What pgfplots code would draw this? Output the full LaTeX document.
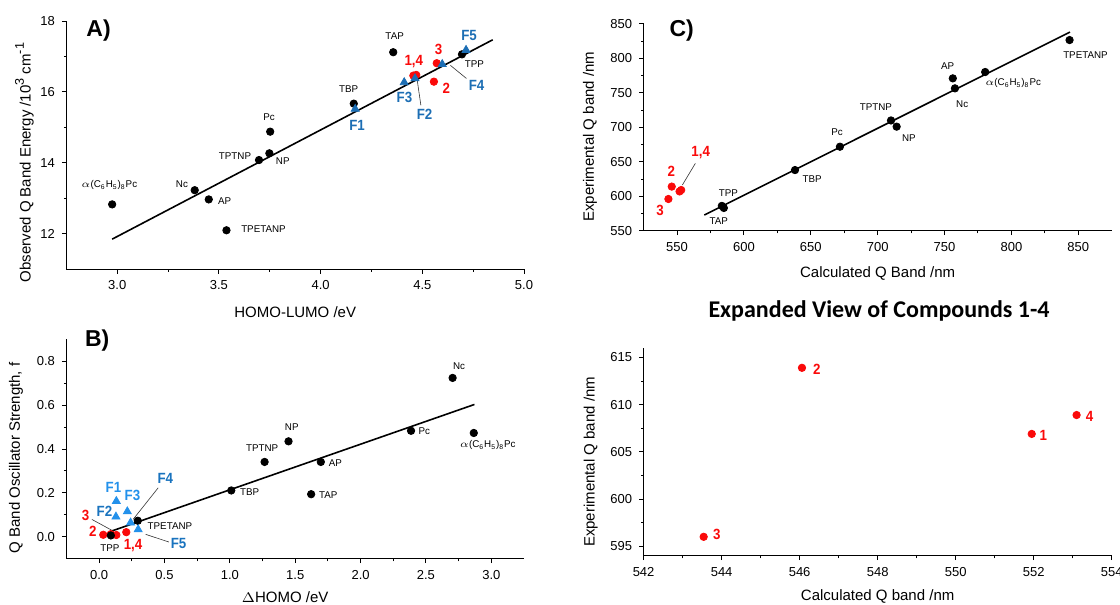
\documentclass[border=0pt]{standalone}
\usepackage{pgfplots}
\pgfplotsset{compat=1.18}
\usepackage{fontspec}
\setmainfont{Liberation Sans}
\newfontfamily\narrowfont[FakeStretch=0.9]{Liberation Sans}
\newfontfamily\titlefont{Carlito}
\definecolor{myred}{RGB}{250,10,10}
\definecolor{blueA}{RGB}{28,110,180}
\definecolor{blueB}{RGB}{35,145,235}
\definecolor{blueBd}{RGB}{25,115,190}
\newcommand{\sm}{\fontsize{4.9}{5.7}\selectfont}
\newcommand{\lab}[1]{{\narrowfont\bfseries\fontsize{7.4}{8}\selectfont #1}}
\newcommand{\bigsup}[1]{\raisebox{0.85ex}{\fontsize{6.3}{6.3}\selectfont #1}}
\pgfplotsset{
  myax/.style={
    scale only axis, axis lines=left, axis line style={-, line width=0.6pt},
    tick align=outside, tick style={black, line width=0.5pt},
    major tick length=2.2pt, minor tick length=1.3pt,
    ticklabel style={font=\fontsize{6.5}{7.5}\selectfont},
    /pgf/number format/assume math mode=true,
    label style={font=\fontsize{7.5}{9}\selectfont},
    clip=false, anchor=south west,
  },
  blk/.style={only marks, mark=*, mark size=1.85pt, black},
  rd/.style={only marks, mark=*, mark size=1.85pt, color=myred, mark options={fill=myred, draw=myred}},
  fit/.style={no marks, black, line width=0.8pt},
}
\begin{document}
\begin{tikzpicture}
\path[use as bounding box] (0,0) rectangle (560pt,302.5pt);
% ---------------- Panel A
\begin{axis}[myax, at={(33.2pt,167.85pt)}, width=228.8pt, height=124.15pt,
  xmin=2.75, xmax=5.0, ymin=11, ymax=18,
  xtick={3,3.5,4,4.5,5}, minor x tick num=1,
  ytick={12,14,16,18}, minor y tick num=1,
  xticklabel style={/pgf/number format/.cd, fixed, fixed zerofill, precision=1},
  xlabel={HOMO-LUMO /eV}, xlabel style={at={(axis description cs:0.5,-0.172)}, anchor=center},
  ylabel={Observed Q Band Energy /10\bigsup{3} cm\bigsup{-1}},
  ylabel style={at={(axis description cs:-0.092,0.43)}, anchor=center, rotate=0},
]
\addplot[fit] coordinates {(2.975,11.85) (4.846,17.47)};
\addplot[blk] coordinates {(2.975,12.83) (3.381,13.23) (3.450,12.97) (3.537,12.10) (3.697,14.08) (3.748,14.27) (3.752,14.88) (4.163,15.67) (4.357,17.12) (4.695,17.06)};
\addplot[rd] coordinates {(4.456,16.46) (4.47,16.48) (4.557,16.29) (4.571,16.81)};
\addplot[only marks, mark=triangle*, mark size=2.3pt, color=blueA, mark options={fill=blueA, draw=blueA}] coordinates {(4.170,15.52) (4.464,16.38) (4.411,16.27) (4.598,16.78) (4.715,17.18)};
\node[font=\bfseries\fontsize{11.5}{13}\selectfont] at (axis cs:2.908,17.72) {A)};
\node[font=\sm] at (axis cs:4.364,17.57) {TAP};
\node[font=\sm] at (axis cs:4.138,16.08) {TBP};
\node[font=\sm] at (axis cs:3.747,15.28) {Pc};
\node[font=\sm] at (axis cs:3.579,14.20) {TPTNP};
\node[font=\sm] at (axis cs:3.814,14.06) {NP};
\node[font=\sm] at (axis cs:3.318,13.39) {Nc};
\node[font=\sm] at (axis cs:3.528,12.93) {AP};
\node[font=\sm, anchor=west] at (axis cs:3.575,12.12) {TPETANP};
\node[font=\sm] at (axis cs:2.961,13.37) {$\alpha$(C\textsubscript{6}H\textsubscript{5})\textsubscript{8}Pc};
\node[font=\sm] at (axis cs:4.756,16.78) {TPP};
\node[text=myred] at (axis cs:4.580,17.20) {\lab{3}};
\node[text=myred] at (axis cs:4.458,16.87) {\lab{1,4}};
\node[text=myred] at (axis cs:4.618,16.09) {\lab{2}};
\node[text=blueA] at (axis cs:4.730,17.58) {\lab{F5}};
\node[text=blueA] at (axis cs:4.767,16.19) {\lab{F4}};
\node[text=blueA] at (axis cs:4.412,15.84) {\lab{F3}};
\node[text=blueA] at (axis cs:4.511,15.37) {\lab{F2}};
\node[text=blueA] at (axis cs:4.179,15.06) {\lab{F1}};
\draw[line width=0.3pt, black!80] (axis cs:4.717,16.38) -- (axis cs:4.638,16.75);
\draw[line width=0.3pt, black!80] (axis cs:4.493,15.62) -- (axis cs:4.475,16.33);
\end{axis}
% ---------------- Panel B
\begin{axis}[myax, at={(33.2pt,23.15pt)}, width=228.8pt, height=109.7pt,
  xmin=-0.25, xmax=3.25, ymin=-0.1, ymax=0.9,
  xtick={0,0.5,1,1.5,2,2.5,3}, minor x tick num=1,
  ytick={0,0.2,0.4,0.6,0.8}, minor y tick num=1,
  xticklabel style={/pgf/number format/.cd, fixed, fixed zerofill, precision=1},
  yticklabel style={/pgf/number format/.cd, fixed, fixed zerofill, precision=1},
  xlabel={$\Delta$HOMO /eV}, xlabel style={at={(axis description cs:0.478,-0.173)}, anchor=center},
  ylabel={Q Band Oscillator Strength, f},
  ylabel style={at={(axis description cs:-0.110,0.459)}, anchor=center, rotate=0},
]
\addplot[fit] coordinates {(0.096,0.026) (2.871,0.603)};
\addplot[rd] coordinates {(0.032,0.009) (0.09,0.012) (0.132,0.008) (0.208,0.021)};
\addplot[blk] coordinates {(0.090,0.006) (0.296,0.073) (1.011,0.211) (1.266,0.341) (1.449,0.435) (1.696,0.341) (1.622,0.194) (2.386,0.483) (2.704,0.724) (2.866,0.473)};
\addplot[only marks, mark=triangle*, mark size=2.3pt, color=blueB, mark options={fill=blueB, draw=blueB}] coordinates {(0.132,0.162) (0.129,0.091) (0.216,0.115) (0.241,0.064) (0.299,0.033)};
\node[font=\bfseries\fontsize{11.5}{13}\selectfont] at (axis cs:-0.014,0.894) {B)};
\node[text=blueB] at (axis cs:0.110,0.223) {\lab{F1}};
\node[text=blueB] at (axis cs:0.255,0.189) {\lab{F3}};
\node[text=blueBd] at (axis cs:0.041,0.117) {\lab{F2}};
\node[text=blueBd] at (axis cs:0.507,0.264) {\lab{F4}};
\node[text=blueBd] at (axis cs:0.608,-0.032) {\lab{F5}};
\node[text=myred] at (axis cs:-0.104,0.097) {\lab{3}};
\node[text=myred] at (axis cs:-0.047,0.023) {\lab{2}};
\node[text=myred] at (axis cs:0.260,-0.038) {\lab{1,4}};
\node[font=\sm] at (axis cs:0.082,-0.050) {TPP};
\node[font=\sm] at (axis cs:0.542,0.048) {TPETANP};
\node[font=\sm] at (axis cs:1.151,0.203) {TBP};
\node[font=\sm] at (axis cs:1.247,0.402) {TPTNP};
\node[font=\sm] at (axis cs:1.474,0.500) {NP};
\node[font=\sm] at (axis cs:1.808,0.336) {AP};
\node[font=\sm] at (axis cs:1.753,0.189) {TAP};
\node[font=\sm] at (axis cs:2.488,0.480) {Pc};
\node[font=\sm] at (axis cs:2.753,0.776) {Nc};
\node[font=\sm] at (axis cs:2.973,0.420) {$\alpha$(C\textsubscript{6}H\textsubscript{5})\textsubscript{8}Pc};
\draw[line width=0.3pt, black!80] (axis cs:-0.055,0.079) -- (axis cs:0.096,0.030);
\draw[line width=0.3pt, black!80] (axis cs:0.452,0.223) -- (axis cs:0.260,0.079);
\draw[line width=0.3pt, black!80] (axis cs:0.534,-0.024) -- (axis cs:0.356,0.011);
\end{axis}
% ---------------- Panel C
\begin{axis}[myax, at={(321.8pt,187.15pt)}, width=234.05pt, height=103.35pt,
  xmin=525, xmax=875, ymin=550, ymax=850,
  xtick={550,600,...,850}, minor x tick num=1,
  ytick={550,600,...,850}, minor y tick num=1,
  xlabel={Calculated Q Band /nm}, xlabel style={at={(axis description cs:0.5,-0.205)}, anchor=center},
  ylabel={Experimental Q band /nm},
  ylabel style={at={(axis description cs:-0.1145,0.455)}, anchor=center, rotate=0},
]
\addplot[fit] coordinates {(570.4,572.7) (843.8,838.3)};
\addplot[blk] coordinates {(585,583) (583.5,586) (638.2,638) (671.8,671.9) (710,710) (714.2,701) (756.2,771.1) (757.8,756.6) (780.4,780.3) (843.5,826.7)};
\addplot[rd] coordinates {(551.9,607) (546.05,614) (543.55,596) (553.1,609)};
\node[font=\bfseries\fontsize{11.5}{13}\selectfont] at (axis cs:553.5,840) {C)};
\node[font=\sm] at (axis cs:588.4,604.2) {TPP};
\node[font=\sm] at (axis cs:581.2,563.5) {TAP};
\node[font=\sm] at (axis cs:651.1,624.5) {TBP};
\node[font=\sm] at (axis cs:669.6,693.7) {Pc};
\node[font=\sm] at (axis cs:698.7,730) {TPTNP};
\node[font=\sm] at (axis cs:723.4,685) {NP};
\node[font=\sm] at (axis cs:752.4,789) {AP};
\node[font=\sm] at (axis cs:763.2,733.4) {Nc};
\node[font=\sm] at (axis cs:801.3,763.8) {$\alpha$(C\textsubscript{6}H\textsubscript{5})\textsubscript{8}Pc};
\node[font=\sm] at (axis cs:855.4,804.5) {TPETANP};
\node[text=myred] at (axis cs:545.7,635.6) {\lab{2}};
\node[text=myred] at (axis cs:537.4,580) {\lab{3}};
\node[text=myred] at (axis cs:567.7,663.7) {\lab{1,4}};
\draw[line width=0.3pt, black!80] (axis cs:563.7,647.7) -- (axis cs:554,616.3);
\end{axis}
% ---------------- Panel D
\begin{axis}[myax, at={(321.8pt,24.65pt)}, width=234.05pt, height=103.85pt,
  xmin=542, xmax=554, ymin=594, ymax=616,
  xtick={542,544,...,554}, minor x tick num=1,
  ytick={595,600,...,615}, minor y tick num=1,
  xlabel={Calculated Q band /nm}, xlabel style={at={(axis description cs:0.5,-0.194)}, anchor=center},
  ylabel={Experimental Q band /nm},
  ylabel style={at={(axis description cs:-0.113,0.452)}, anchor=center, rotate=0},
  title={Expanded View of Compounds 1-4},
  title style={at={(axis description cs:0.503,1.122)}, anchor=center, font=\titlefont\bfseries\fontsize{12}{14}\selectfont},
]
\addplot[rd] coordinates {(551.95,606.9) (546.06,613.9) (543.54,596.0) (553.1,608.9)};
\node[text=myred] at (axis cs:546.44,613.76) {\lab{2}};
\node[text=myred] at (axis cs:552.25,606.7) {\lab{1}};
\node[text=myred] at (axis cs:553.43,608.75) {\lab{4}};
\node[text=myred] at (axis cs:543.88,596.27) {\lab{3}};
\end{axis}
\end{tikzpicture}
\end{document}
